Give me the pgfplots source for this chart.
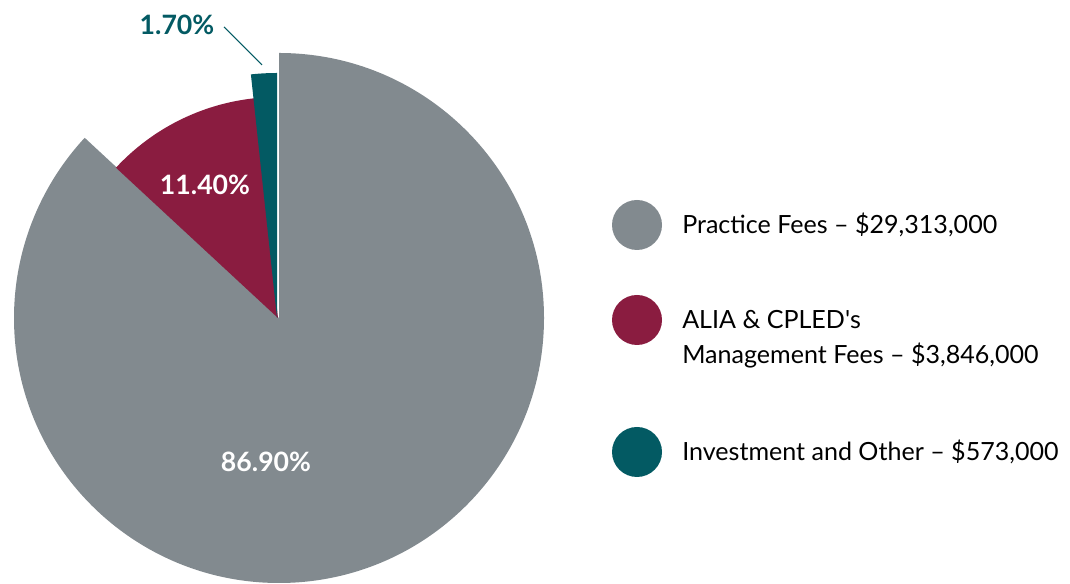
\documentclass[border=0pt]{standalone}
\usepackage{fontspec}
\setmainfont{Lato}
\usepackage{pgfplots}
\pgfplotsset{compat=1.18}
\definecolor{pgray}{HTML}{828A8F}
\definecolor{pred}{HTML}{8A1C40}
\definecolor{pteal}{HTML}{035A63}
\begin{document}
\begin{tikzpicture}
\begin{axis}[scale only axis, width=802.5pt, height=438pt,
  xmin=0, xmax=1070, ymin=0, ymax=584, hide axis, clip=false]
\path (axis cs:0,0) rectangle (axis cs:1070,584);
% shares (percent): 86.9, 11.4, 1.7 ; radii (px): 265, 221, 245
\fill[pgray] (axis cs:279,266) -- ++(90:198.75pt)
  arc[start angle=90, delta angle=-86.9*3.6, radius=198.75pt] -- cycle;
\fill[pred] (axis cs:278,266) -- ++({450-86.9*3.6}:165.75pt)
  arc[start angle={450-86.9*3.6}, delta angle=-11.4*3.6, radius=165.75pt] -- cycle;
\fill[pteal] (axis cs:277,266) -- ++({450-(86.9+11.4)*3.6}:183.75pt)
  arc[start angle={450-(86.9+11.4)*3.6}, delta angle=-1.7*3.6, radius=183.75pt] -- cycle;
% labels
\node[font=\bfseries\fontsize{20}{24}\selectfont, text=white] at (axis cs:205,399) {11.40\%};
\node[font=\bfseries\fontsize{20}{24}\selectfont, text=white] at (axis cs:266,122) {86.90\%};
\node[font=\bfseries\fontsize{20}{24}\selectfont, text=pteal, anchor=east] at (axis cs:219,559) {1.70\%};
\draw[pteal, line width=0.8pt] (axis cs:224,557) -- (axis cs:262,519);
% legend
\fill[pgray] (axis cs:637,359) circle[radius=18.75pt];
\fill[pred] (axis cs:637,264) circle[radius=18.75pt];
\fill[pteal] (axis cs:637,132) circle[radius=18.75pt];
\begin{scope}[every node/.style={anchor=west, inner sep=0pt, font=\fontsize{18.8}{22}\selectfont}]
\node at (axis cs:682,359) {Practice Fees -- \$29,313,000};
\node at (axis cs:682,264) {ALIA \& CPLED\textquotesingle s};
\node at (axis cs:682,228) {Management Fees -- \$3,846,000};
\node at (axis cs:682,132) {Investment and Other -- \$573,000};
\end{scope}
\end{axis}
\end{tikzpicture}
\end{document}
